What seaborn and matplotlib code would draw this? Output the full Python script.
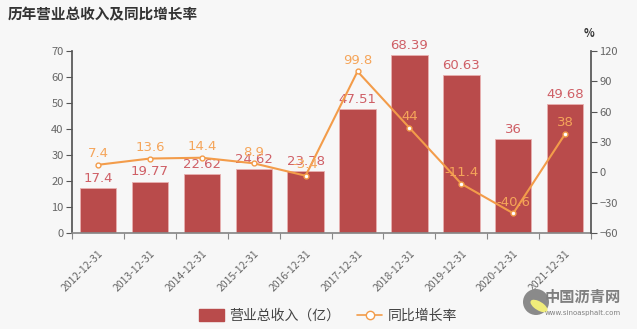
import numpy as np
import pandas as pd
import matplotlib
matplotlib.use("Agg")
import matplotlib.pyplot as plt
import seaborn as sns
from matplotlib.patches import Patch, Ellipse
from matplotlib.lines import Line2D

categories = ["2012-12-31", "2013-12-31", "2014-12-31", "2015-12-31", "2016-12-31",
              "2017-12-31", "2018-12-31", "2019-12-31", "2020-12-31", "2021-12-31"]
revenue = [17.4, 19.77, 22.62, 24.62, 23.78, 47.51, 68.39, 60.63, 36, 49.68]
growth = [7.4, 13.6, 14.4, 8.9, -3.4, 99.8, 44, -11.4, -40.6, 38]
revenue_labels = ["17.4", "19.77", "22.62", "24.62", "23.78", "47.51", "68.39", "60.63", "36", "49.68"]
growth_labels = ["7.4", "13.6", "14.4", "8.9", "-3.4", "99.8", "44", "-11.4", "-40.6", "38"]

sns.set_theme(style="white")
plt.rcParams['font.family'] = ['Noto Sans CJK SC', 'DejaVu Sans']
plt.rcParams['axes.unicode_minus'] = True

bg = "#f7f7f7"
bar_color = "#b94b4b"
bar_label_color = "#cf5f66"
line_color = "#f39c4a"
line_label_color = "#f5a55a"
axis_color = "#555555"
tick_text = "#666666"

df = pd.DataFrame({"cat": categories, "rev": revenue, "growth": growth})
df["x"] = np.arange(len(df))

fig = plt.figure(figsize=(6.37, 3.29), dpi=100, facecolor=bg)
ax = fig.add_axes([0.113, 0.292, 0.815, 0.553])
ax.set_facecolor(bg)

sns.barplot(data=df, x="cat", y="rev", color=bar_color, width=0.7, ax=ax,
            saturation=1, edgecolor="#e8b0b0", linewidth=0.6)
ax.set_xlim(-0.5, len(categories) - 0.5)
ax.set_ylim(0, 70)
ax.set_yticks(range(0, 71, 10))
ax.set_xlabel("")
ax.set_ylabel("")

ax2 = ax.twinx()
sns.lineplot(data=df, x="x", y="growth", ax=ax2, color=line_color, linewidth=1.5,
             marker="o", markersize=3.5, markerfacecolor="white",
             markeredgecolor=line_color, markeredgewidth=1)
ax2.set_ylim(-60, 120)
ax2.set_yticks(range(-60, 121, 30))
ax2.set_xlim(-0.5, len(categories) - 0.5)
ax2.set_xlabel("")
ax2.set_ylabel("")

for xi, (v, lab) in enumerate(zip(revenue, revenue_labels)):
    ax.text(xi, v + 1.2, lab, ha="center", va="bottom", color=bar_label_color,
            fontsize=9.5, family=['DejaVu Sans'])
for xi, (v, lab) in enumerate(zip(growth, growth_labels)):
    ax2.text(xi, v + 4.5, lab, ha="center", va="bottom", color=line_label_color,
             fontsize=9.5, family=['DejaVu Sans'], zorder=5)

for a in (ax, ax2):
    for s in a.spines.values():
        s.set_visible(False)
ax.spines["left"].set_visible(True)
ax.spines["left"].set_color(axis_color)
ax.spines["bottom"].set_visible(True)
ax.spines["bottom"].set_color("#888888")
ax2.spines["right"].set_visible(True)
ax2.spines["right"].set_color(axis_color)

ax.tick_params(axis="y", left=True, length=4, color=axis_color, labelsize=8,
               labelcolor=tick_text, pad=2, width=0.8)
ax2.tick_params(axis="y", right=True, length=4, color=axis_color, labelsize=8,
                labelcolor=tick_text, pad=2, width=0.8)
ax.set_xticks(np.arange(len(categories)))
ax.set_xticklabels(categories, rotation=45, ha="right", rotation_mode="anchor",
                   fontsize=7.5, color=tick_text)
ax.tick_params(axis="x", bottom=False, pad=5)
ax.set_xticks(np.arange(-0.5, len(categories) + 0.5, 1), minor=True)
ax.tick_params(axis="x", which="minor", bottom=True, length=4, color="#888888", width=0.8)
ax2.tick_params(axis="x", bottom=False, labelbottom=False)
ax2.grid(False)
ax.grid(False)

fig.text(0.012, 0.955, "历年营业总收入及同比增长率", fontsize=10.5, fontweight="bold",
         color="#333333", ha="left", va="center")
fig.text(0.925, 0.898, "%", fontsize=8, fontweight="bold", color="#333333",
         ha="center", va="center")

handles = [Patch(facecolor=bar_color, edgecolor=bar_color),
           Line2D([0], [0], color=line_color, marker="o", markerfacecolor="white",
                  markeredgecolor=line_color, markersize=6, linewidth=1.2)]
fig.legend(handles, ["营业总收入（亿）", "同比增长率"], loc="center",
           bbox_to_anchor=(0.515, 0.04), ncol=2, frameon=False, fontsize=10,
           labelcolor="#444444", handlelength=1.8, handleheight=0.9,
           columnspacing=1.2, handletextpad=0.4)

# watermark logo
W, H = 637, 329
fig.patches.append(Ellipse((536 / W, 1 - 302 / H), 26 / W, 26 / H,
                           transform=fig.transFigure, facecolor="#8a8a8a",
                           edgecolor="none"))
fig.patches.append(Ellipse((539 / W, 1 - 306 / H), 12 / W, 14 / H, angle=30,
                           transform=fig.transFigure, facecolor="#f0ec7a",
                           edgecolor="none"))
fig.text(0.915, 0.098, "中国沥青网", fontsize=11, color="#808080", ha="center",
         va="center", fontweight="bold")
fig.text(0.915, 0.05, "www.sinoasphalt.com", fontsize=5, color="#808080",
         ha="center", va="center", family=['DejaVu Sans'])

fig.savefig("out.png", dpi=100, facecolor=bg)
